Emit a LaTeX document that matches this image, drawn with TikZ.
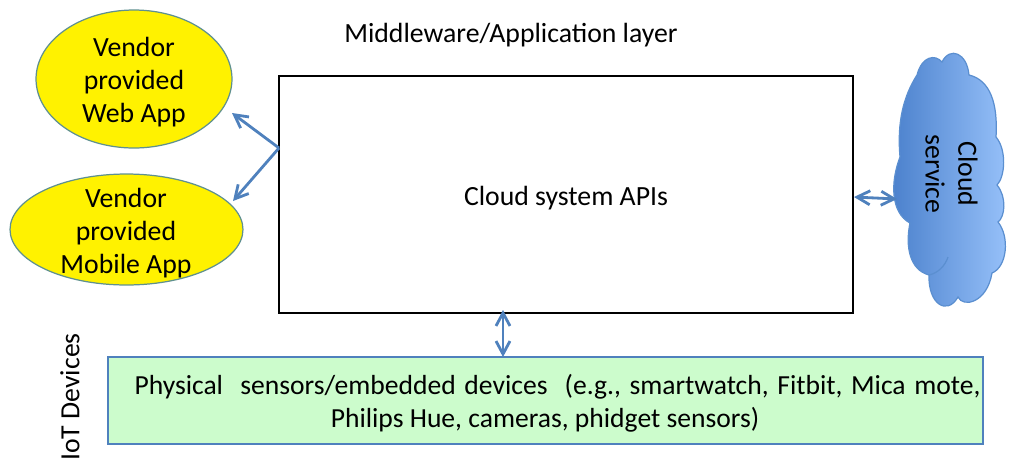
\documentclass[tikz,border=0pt]{standalone}
\usepackage{fontspec}
\setmainfont{Carlito}
\usepackage{xcolor}
\usetikzlibrary{arrows.meta, shapes.geometric, shadows}
\definecolor{linkblue}{HTML}{4F81BD}
\definecolor{cloudedge}{HTML}{5B8FD0}
\definecolor{cloudleft}{HTML}{4A80CC}
\definecolor{cloudright}{HTML}{98C2FA}
\definecolor{appedge}{HTML}{5F9090}
\definecolor{devicegreen}{HTML}{CCFCCC}

\begin{document}
\begin{tikzpicture}[
                x=0.02cm, y=-0.02cm,
                caption/.style={font=\fontsize{15.8}{18.7}\selectfont, text=black, align=center, inner sep=0pt},
                softshadow/.style={drop shadow={shadow xshift=0.3pt, shadow yshift=-0.6pt, opacity=0.35}},
                vendorapp/.style={ellipse, draw=appedge, line width=0.7pt, fill=yellow, inner sep=0pt},
                apibox/.style={rectangle, draw=black, fill=white, line width=1pt, inner sep=0pt, minimum width=11.48cm, minimum height=4.74cm, softshadow},
                devicebox/.style={rectangle, draw=linkblue, fill=devicegreen, line width=0.7pt, inner sep=0pt, minimum width=17.5cm, minimum height=1.74cm, softshadow},
                link/.style={{Straight Barb[length=2.6mm, width=2.8mm]}-{Straight Barb[length=2.6mm, width=2.8mm]}, draw=linkblue, line width=1.6pt},
                linkone/.style={-{Straight Barb[length=2.6mm, width=2.8mm]}, draw=linkblue, line width=1.6pt}
                ]
                \useasboundingbox (0,0) rectangle (1018,468);

                % Vendor apps
                \node[vendorapp, minimum width=3.92cm, minimum height=2.76cm] (web) at (134,79) {};
                \node[vendorapp, minimum width=4.66cm, minimum height=2.22cm] (mobile) at (126.5,229.5) {};
                \node[caption] (webtext) at (134,82) {Vendor\\provided\\Web App};
                \node[caption] (mobiletext) at (126,233) {Vendor\\provided\\Mobile App};

                % Main boxes
                \node[apibox] (apis) at (566,194.5) {};
                \node[caption] (apistext) at (566,198) {Cloud system APIs};
                \node[devicebox] (devices) at (545.5,400.5) {};
                \node[caption, font=\fontsize{15.7}{18.7}\selectfont] (devicestext) at (545,403) {\hspace*{0.5cm}{\spaceskip=4.9pt Physical\ \ sensors/embedded devices\ \ (e.g., smartwatch, Fitbit, Mica mote,}\\Philips Hue, cameras, phidget sensors)};

                % Cloud
                \draw[cloudedge, line width=0.7pt, left color=cloudleft, right color=cloudright]
                    (917,75) .. controls (922,56) and (935,54) .. (942,62)
                    .. controls (950,46) and (967,53) .. (969,75)
                    .. controls (990,80) and (998,103) .. (996,137)
                    .. controls (1007,150) and (1005,177) .. (997,185)
                    .. controls (1007,197) and (1005,217) .. (998,222)
                    .. controls (1010,237) and (1007,267) .. (992,273)
                    .. controls (987,303) and (963,308) .. (958,297)
                    .. controls (947,316) and (928,304) .. (929,275)
                    .. controls (910,270) and (905,247) .. (910,223)
                    .. controls (891,213) and (890,183) .. (900,157)
                    .. controls (897,123) and (903,97) .. (917,75) -- cycle;
                \draw[cloudedge, line width=0.7pt] (948,257) .. controls (945,266) and (938,273) .. (929,275);
                \node[caption, rotate=-90] (cloudtext) at (951.5,174) {Cloud\\service};

                % Titles
                \node[caption] (middleware) at (511,35) {Middleware/Application layer};
                \node[caption, rotate=90] (iot) at (70,397) {IoT Devices};

                % Connectors
                \coordinate (fork) at (279,148);
                \coordinate (webtip) at (232,113);
                \coordinate (mobiletip) at (233,201);
                \coordinate (apisright) at (854,197);
                \coordinate (cloudin) at (897,199);
                \coordinate (apisbottom) at (503,310);
                \coordinate (devicestop) at (503,357);
                \draw[linkone] (fork) -- (webtip);
                \draw[linkone] (fork) -- (mobiletip);
                \draw[link] (apisright) -- (cloudin);
                \draw[link] (apisbottom) -- (devicestop);
                \end{tikzpicture}
\end{document}
